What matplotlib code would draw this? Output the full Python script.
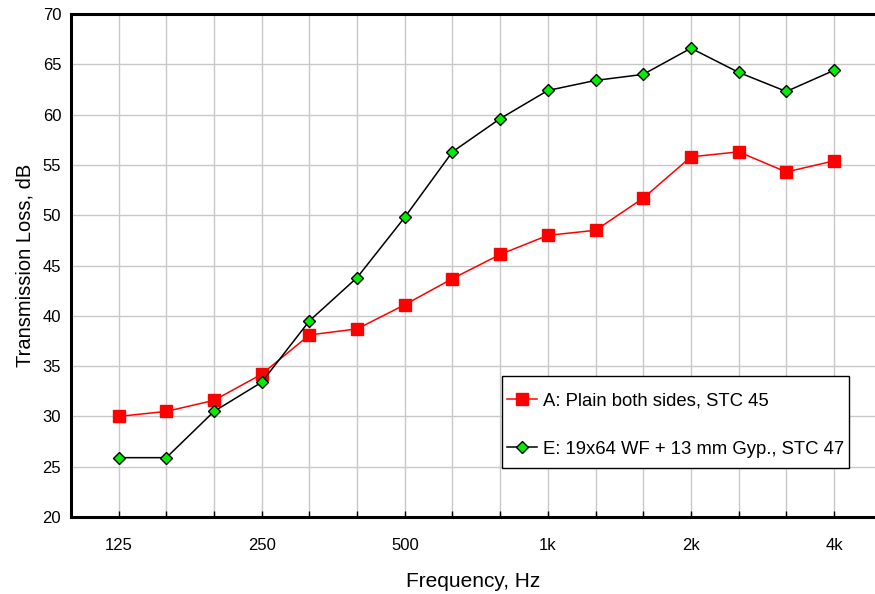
import matplotlib
matplotlib.use("Agg")
import matplotlib.pyplot as plt
from matplotlib.patches import Rectangle
import numpy as np

plt.rcParams['font.family'] = ['Liberation Sans', 'DejaVu Sans']

freqs = ['125', '160', '200', '250', '315', '400', '500', '630', '800',
         '1k', '1.25k', '1.6k', '2k', '2.5k', '3.15k', '4k']
tl_a = [30.0, 30.5, 31.6, 34.2, 38.1, 38.7, 41.1, 43.7, 46.1,
        48.0, 48.5, 51.7, 55.8, 56.3, 54.3, 55.4]
tl_e = [25.9, 25.9, 30.5, 33.4, 39.5, 43.8, 49.8, 56.3, 59.6,
        62.4, 63.4, 64.0, 66.6, 64.2, 62.3, 64.4]
label_a = 'A: Plain both sides, STC 45'
label_e = 'E: 19x64 WF + 13 mm Gyp., STC 47'

x = np.arange(len(freqs))

fig = plt.figure(figsize=(8.75, 5.94), dpi=100)
ax = fig.add_axes([0.0811, 0.1296, 0.9189, 0.8468])

ax.plot(x, tl_a, color='#ff0000', lw=1.1, marker='s', ms=8,
        mfc='#ff0000', mec='#ff0000', label=label_a, zorder=3)
ax.plot(x, tl_e, color='black', lw=1.1, marker='D', ms=6.5,
        mfc='#00ee00', mec='black', mew=1.0, label=label_e, zorder=3)

ax.set_xlim(-1, 15.86)
ax.set_ylim(20, 70)
ax.set_yticks(np.arange(20, 71, 5))
ax.set_xticks(x)
ax.set_xticklabels([f if i % 3 == 0 else '' for i, f in enumerate(freqs)])

ax.grid(True, color='#c8c8c8', lw=1.0)
ax.set_axisbelow(True)

for s in ['left', 'bottom', 'top']:
    ax.spines[s].set_linewidth(2.2)
ax.spines['right'].set_visible(False)

ax.tick_params(axis='x', direction='in', length=4, width=1, pad=15,
               labelsize=12)
ax.tick_params(axis='y', length=0, pad=7, labelsize=12)
for lab in ax.get_xticklabels() + ax.get_yticklabels():
    lab.set_fontfamily(['Liberation Sans Narrow', 'Liberation Sans'])

ax.set_xlabel('Frequency, Hz', fontsize=15, labelpad=14)
ax.set_ylabel('Transmission Loss, dB', fontsize=14.5, labelpad=6)

# legend box drawn separately so it can be taller than the entries
leg_box = (0.536, 0.0974, 0.4316, 0.183)
ax.add_patch(Rectangle(leg_box[:2], leg_box[2], leg_box[3], transform=ax.transAxes,
                       facecolor='white', edgecolor='black', lw=1.0, zorder=4))
leg = ax.legend(loc='center left',
                bbox_to_anchor=(leg_box[0], leg_box[1] - 0.006, leg_box[2], leg_box[3]),
                fontsize=13.3, frameon=False, handlelength=1.6,
                handletextpad=0.3, labelspacing=1.7, borderpad=0.3,
                borderaxespad=0)
leg.set_zorder(5)

fig.savefig('out.png', dpi=100)
